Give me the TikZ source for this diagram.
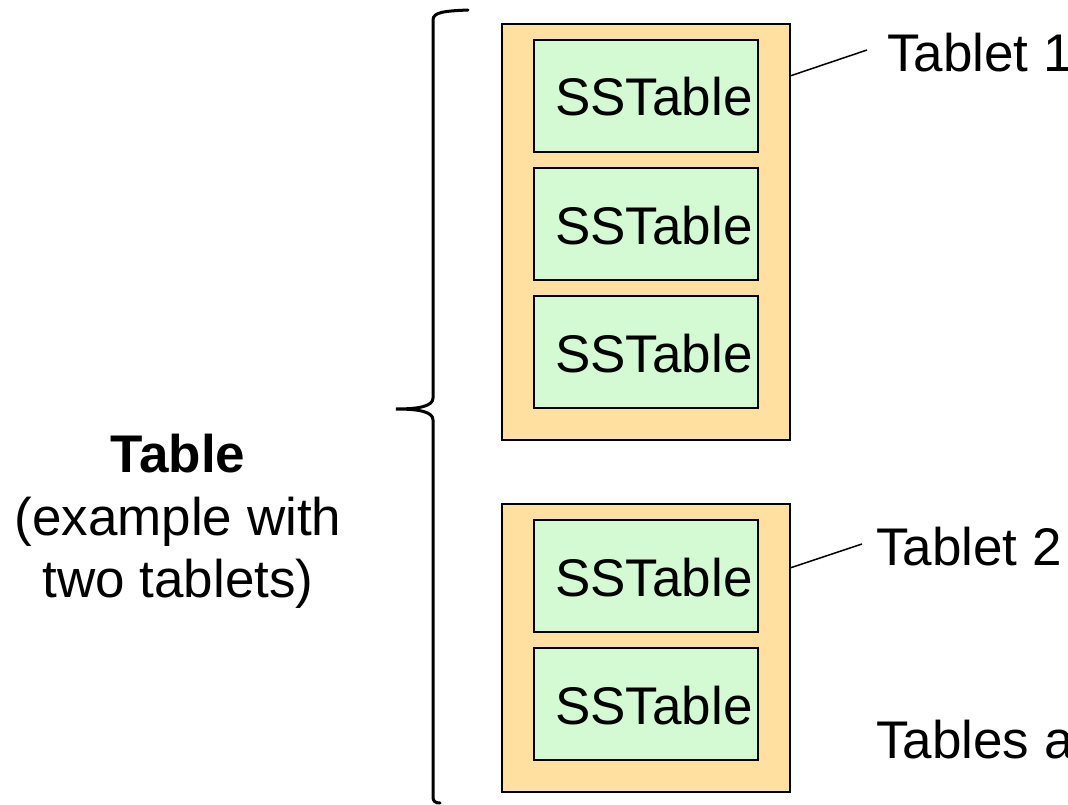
\documentclass[tikz,border=0pt]{standalone}
\usepackage{fontspec}
\setmainfont{Liberation Sans}
\definecolor{tabletfill}{HTML}{FFE0A0}
\definecolor{ssfill}{HTML}{D3FAD3}
\begin{document}
\begin{tikzpicture}[x=1pt,y=-1pt,
  tablet/.style={draw=black, line width=1.5pt, fill=tabletfill},
  sstable/.style={draw=black, line width=1.5pt, fill=ssfill},
  big/.style={font=\fontsize{53}{63}\selectfont, inner sep=0pt},
  conn/.style={line width=1.5pt},
  brace/.style={line width=3pt, line cap=round}]
\useasboundingbox (0,0) rectangle (1068,805);
% tablets
\path[tablet] (502,24) rectangle (790,440);
\node[inner sep=0pt, minimum width=288pt, minimum height=416pt] (t1) at (646,232) {};
\path[tablet] (502,504) rectangle (790,792);
\node[inner sep=0pt, minimum width=288pt, minimum height=288pt] (t2) at (646,648) {};
% sstables
\foreach \n/\y in {s1/40, s2/168, s3/296, s4/520, s5/648}{
  \path[sstable] (534,\y) rectangle (758,\y+112);
  \node[big, anchor=base west] (\n) at (555,\y+76) {SSTable};
}
% labels
\node[big, anchor=base west] (l1) at (887,72) {Tablet 1};
\node[big, anchor=base west] (l2) at (876,565) {Tablet 2};
\node[big, anchor=base west] (l3) at (876,758) {Tables a};
\coordinate (c1a) at (790,76);
\coordinate (c1b) at (867,50);
\coordinate (c2a) at (790,568);
\coordinate (c2b) at (862,544);
\draw[conn] (c1a) -- (c1b);
\draw[conn] (c2a) -- (c2b);
% brace
\draw[brace] (468,10) .. controls (445,11) and (433,12) .. (433,20)
  -- (433,398) .. controls (433,406) and (420,409) .. (396,409)
  .. controls (420,409) and (433,412) .. (433,420)
  -- (433,797) .. controls (433,801) and (435,803) .. (440,803);
% table label
\node[big, font=\fontsize{53}{63}\selectfont\bfseries, anchor=base] (tb) at (178,472) {Table};
\node[big, anchor=base] (ex1) at (178,535) {(example with};
\node[big, anchor=base] (ex2) at (178,597) {two tablets)};
\end{tikzpicture}
\end{document}
